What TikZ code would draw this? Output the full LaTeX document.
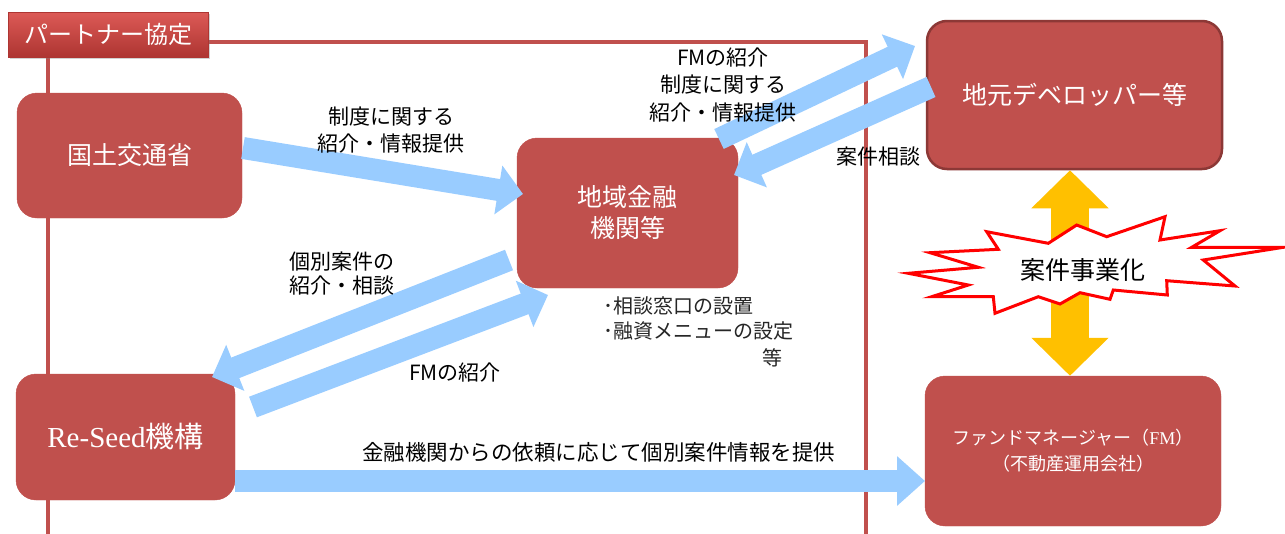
\documentclass[tikz,border=0pt]{standalone}
\usepackage{fontspec}
\setmainfont{Noto Sans CJK JP}
\newfontfamily\serifrm{Liberation Serif}
\usetikzlibrary{arrows.meta,shadows}
\definecolor{boxred}{HTML}{C0504D}
\definecolor{boxedge}{HTML}{8C3836}
\definecolor{flowblue}{HTML}{99CCFF}
\definecolor{goldarrow}{HTML}{FFC000}
\definecolor{burstred}{HTML}{FF0000}
\definecolor{labeltop}{HTML}{DC5A56}
\definecolor{labelbot}{HTML}{AE3532}
\begin{document}
\begin{tikzpicture}[x=1pt,y=-1pt,
  redbox/.style={rectangle, rounded corners=20pt, fill=boxred, draw=boxred, text=white,
    font=\fontsize{25}{31}\selectfont, align=center, inner sep=0pt},
  lbl/.style={font=\fontsize{21}{27}\selectfont, align=center, inner sep=0pt, text=black},
  flow/.style={draw=flowblue, line width=22pt, -{Triangle[length=25pt,width=48pt]}},
  frameline/.style={draw=boxred, line width=3.5pt},
]
\clip (0,0) rectangle (1285,533);
\fill[white] (0,0) rectangle (1285,533);

% partnership frame
\draw[frameline] (48,560) -- (48,42) -- (866,42) -- (866,560);

% label
\node[rectangle, top color=labeltop, bottom color=labelbot, draw=labelbot, line width=0.6pt,
  text=white, font=\fontsize{24}{28}\selectfont, minimum width=200pt, minimum height=45pt,
  inner sep=0pt, drop shadow={shadow xshift=1.5pt, shadow yshift=-2pt, opacity=0.35}]
  (partner) at (108,34.5) {パートナー協定};

% boxes
\node[redbox, minimum width=225pt, minimum height=125pt] (mlit) at (129.5,155.5) {国土交通省};
\node[redbox, minimum width=221pt, minimum height=150pt] (bank) at (627.5,213) {地域金融\\機関等};
\node[redbox, draw=boxedge, line width=2.5pt, minimum width=295pt, minimum height=148pt] (dev) at (1074.5,95) {地元デベロッパー等};
\node[redbox, minimum width=219pt, minimum height=126pt, font=\fontsize{29}{34}\selectfont] (reseed) at (125.5,437) {{\serifrm Re-Seed}機構};
\node[redbox, minimum width=296pt, minimum height=150pt, font=\fontsize{18}{26}\selectfont] (fm) at (1073,451) {ファンドマネージャー（{\serifrm FM}）\\（不動産運用会社）};

% arrow end points
\coordinate (a1s) at (243,148);  \coordinate (a1e) at (523,194);
\coordinate (a2s) at (509,260);  \coordinate (a2e) at (212,377);
\coordinate (a3s) at (253,407);  \coordinate (a3e) at (548,295);
\coordinate (a4s) at (719,139);  \coordinate (a4e) at (915,46);
\coordinate (a5s) at (931,87);   \coordinate (a5e) at (734,175);
\coordinate (a6s) at (235,481);  \coordinate (a6e) at (925,481);

\draw[flow] (a1s) -- (a1e);
\draw[flow] (a2s) -- (a2e);
\draw[flow] (a3s) -- (a3e);
\draw[flow] (a4s) -- (a4e);
\draw[flow] (a5s) -- (a5e);
\draw[flow, -{Triangle[length=28pt,width=48pt]}] (a6s) -- (a6e);

% yellow double arrow
\draw[draw=goldarrow, line width=38pt, {Triangle[length=38pt,width=75pt]}-{Triangle[length=38pt,width=75pt]}]
  ([xshift=-4.5pt]dev.south) -- ([xshift=-3pt]fm.north);

% burst
\draw[burstred, line width=3pt, fill=white, line join=miter, miter limit=20]
  (908.3,273.3) -- (978.3,267.3) -- (930,252.7) -- (998.3,249.3) -- (986.7,231.7)
  -- (1048.3,243.3) -- (1076.7,225) -- (1106.7,236.7) -- (1165,216.7) -- (1160,240)
  -- (1220,230.7) -- (1191.7,247.3) -- (1283.3,247.3) -- (1203.3,260) -- (1235,286)
  -- (1166.7,280.7) -- (1167.3,295) -- (1113.3,290) -- (1110,299.3) -- (1080,292.7)
  -- (1060,304) -- (1038.3,296.7) -- (995,313.3) -- (993.3,296.7) -- (931.7,296.7)
  -- (968.3,285) -- cycle;
\node[lbl, font=\fontsize{25}{30}\selectfont] (burstlbl) at (1083,270) {案件事業化};

% labels
\node[lbl] (l1) at (391,130) {制度に関する\\紹介・情報提供};
\node[lbl, font=\fontsize{21}{27.5}\selectfont] (l2) at (723,85) {FMの紹介\\制度に関する\\紹介・情報提供};
\node[lbl] (l3) at (878,157) {案件相談};
\node[lbl, align=left, anchor=west, font=\fontsize{21}{24}\selectfont] (l4) at (289,273.5) {個別案件の\\紹介・相談};
\node[lbl] (l5) at (455,373) {FMの紹介};
\node[lbl, align=left, anchor=north west, text=black!85, font=\fontsize{20}{25}\selectfont] (l6) at (603,296) {･相談窓口の設置\\･融資メニューの設定};
\node[lbl, anchor=east, text=black!85, font=\fontsize{20}{25}\selectfont] (l7) at (783,358) {等};
\node[lbl, font=\fontsize{21.5}{26}\selectfont] (l8) at (598.5,452) {金融機関からの依頼に応じて個別案件情報を提供};
\end{tikzpicture}
\end{document}
